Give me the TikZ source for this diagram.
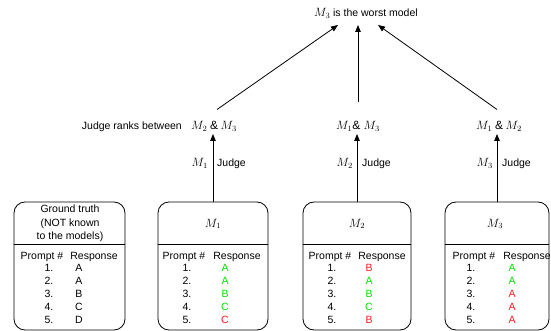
\documentclass[tikz,border=0pt]{standalone}
\usepackage{fontspec}
\setmainfont{Liberation Sans}
\usetikzlibrary{arrows.meta}
\definecolor{okgreen}{HTML}{00E000}
\definecolor{badred}{HTML}{FF1A1A}
\begin{document}
\begin{tikzpicture}[x=1pt,y=-1pt,
  box/.style={draw, rounded corners=11pt, line width=0.8pt, minimum height=128pt, inner sep=0pt},
  txt/.style={font=\fontsize{10.5}{13.5}\selectfont, inner sep=0pt, anchor=base},
  mth/.style={font=\fontsize{12}{14}\selectfont, inner sep=0pt, anchor=base},
  arr/.style={-{Triangle[length=7pt,width=5.5pt]}, line width=0.8pt},
  divline/.style={line width=0.8pt}]
\useasboundingbox (0,0) rectangle (551,331);

% title
\node[inner sep=0pt, anchor=base] (title) at (366,17)
  {{\fontsize{12}{14}\selectfont$M_3$} {\fontsize{10.5}{13}\selectfont is the worst model}};
\coordinate (t1) at (338,25);
\coordinate (t2) at (358,25);
\coordinate (t3) at (378,25);

% pair labels
\node[mth] (p1) at (214,130) {$M_2\mathbin{\&}M_3$};
\node[txt, anchor=base east] (jr) at (182,130) {Judge ranks between};
\node[mth] (p2) at (358,130) {$M_1\&\;M_3$};
\node[mth] (p3) at (499,130) {$M_1\mathbin{\&}M_2$};

\draw[arr] ([xshift=3pt,yshift=12pt]p1.north) -- (t1);
\draw[arr] ([yshift=19pt]p2.north) -- (t2);
\draw[arr] ([xshift=-2pt,yshift=12pt]p3.north) -- (t3);

% boxes
\node[box, minimum width=111pt] (gt) at (69.5,266) {};
\node[box, minimum width=110pt] (m1) at (213,266) {};
\node[box, minimum width=108pt] (m2) at (357,266) {};
\node[box, minimum width=104pt] (m3) at (497,266) {};

\foreach \b in {gt,m1,m2,m3}{
  \draw[divline] (\b.west |- 0,244) -- (\b.east |- 0,244);
}

% judge arrows
\draw[arr] (m1.north) -- ([yshift=-2pt]m1.north |- p1.south);
\draw[arr] (m2.north) -- ([yshift=-2pt]m2.north |- p2.south);
\draw[arr] (m3.north) -- ([yshift=-2pt]m3.north |- p3.south);

\node[mth, anchor=base east] (j1m) at (208,167) {$M_1$};
\node[txt, anchor=base west] (j1t) at (217,167) {Judge};
\node[mth, anchor=base east] (j2m) at (353,167) {$M_2$};
\node[txt, anchor=base west] (j2t) at (362,167) {Judge};
\node[mth, anchor=base east] (j3m) at (493,167) {$M_3$};
\node[txt, anchor=base west] (j3t) at (502,167) {Judge};

% headers
\node[txt, anchor=center, align=center, font=\fontsize{10.5}{13.5}\selectfont] (gth) at (70,223.5)
  {Ground truth\\(NOT known\\to the models)};
\node[mth] (m1h) at (213,227) {$M_1$};
\node[mth] (m2h) at (357,227) {$M_2$};
\node[mth] (m3h) at (495,227) {$M_3$};

% column heads
\node[txt] (gtp) at (42,259) {Prompt \#};
\node[txt] (gtr) at (94,259) {Response};
\node[txt] (m1p) at (184,259) {Prompt \#};
\node[txt] (m1r) at (237,259) {Response};
\node[txt] (m2p) at (330,259) {Prompt \#};
\node[txt] (m2r) at (382,259) {Response};
\node[txt] (m3p) at (474,259) {Prompt \#};
\node[txt] (m3r) at (527,259) {Response};

% rows
\foreach \i/\l in {1/A,2/A,3/B,4/C,5/D}{
  \node[txt] (gtn\i) at (49,258+13*\i) {\i.};
  \node[txt] (gtl\i) at (79,258+13*\i) {\l};
}
\foreach \i/\l/\c in {1/A/okgreen,2/A/okgreen,3/B/okgreen,4/C/okgreen,5/C/badred}{
  \node[txt] (m1n\i) at (187,258+13*\i) {\i.};
  \node[txt, text=\c] (m1l\i) at (225,258+13*\i) {\l};
}
\foreach \i/\l/\c in {1/B/badred,2/A/okgreen,3/B/okgreen,4/C/okgreen,5/B/badred}{
  \node[txt] (m2n\i) at (332,258+13*\i) {\i.};
  \node[txt, text=\c] (m2l\i) at (369,258+13*\i) {\l};
}
\foreach \i/\l/\c in {1/A/okgreen,2/A/okgreen,3/A/badred,4/A/badred,5/A/badred}{
  \node[txt] (m3n\i) at (471,258+13*\i) {\i.};
  \node[txt, text=\c] (m3l\i) at (512,258+13*\i) {\l};
}
\end{tikzpicture}
\end{document}
